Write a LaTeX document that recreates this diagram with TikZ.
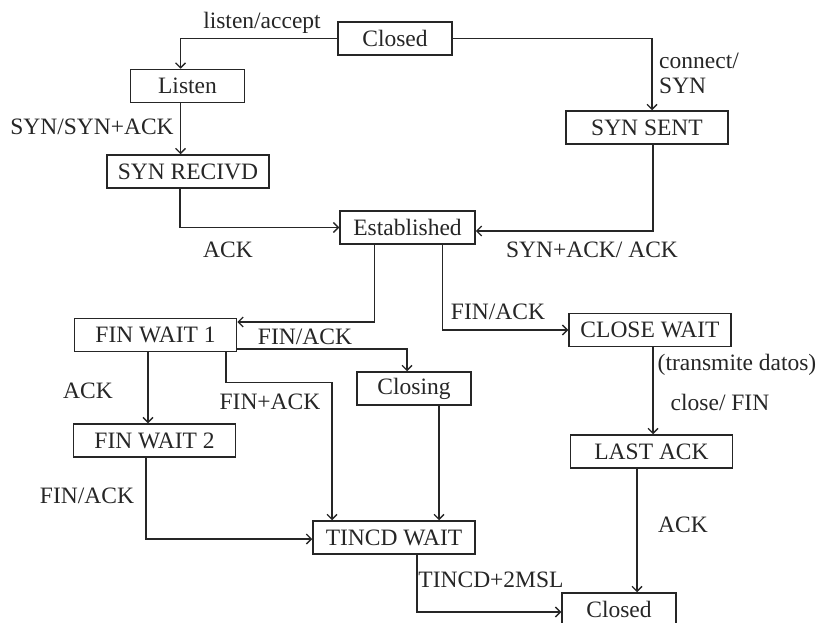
\documentclass[tikz,border=0pt]{standalone}
\usepackage{fontspec}
\setmainfont{Liberation Serif}
\usetikzlibrary{arrows.meta}

\begin{document}
\begin{tikzpicture}[x=1pt,y=-1pt,
  every node/.style={font=\fontsize{23.5}{25}\selectfont, text=black!85},
  state/.style={draw=black!85, line width=1.5pt, minimum height=33pt, minimum width=162pt, inner sep=0pt},
  shortstate/.style={state, minimum width=114pt},
  flow/.style={draw=black!85, line width=1.4pt, -{Straight Barb[length=5pt,width=10pt]}},
  lbl/.style={inner sep=0pt}]
\useasboundingbox (0,0) rectangle (817,623);
% states
\node[shortstate] (closedtop) at (395,38.5) {Closed};
\node[shortstate] (listen) at (187.5,86) {Listen};
\node[state] (synrecvd) at (188,171.5) {SYN RECIVD};
\node[state] (synsent) at (647,127.5) {SYN SENT};
\node[state, minimum width=135pt] (established) at (407.5,227.5) {Established};
\node[state] (finwaitone) at (155.5,335) {FIN WAIT 1};
\node[shortstate] (closing) at (414,388.5) {Closing};
\node[state] (finwaittwo) at (154.5,440.5) {FIN WAIT 2};
\node[state] (timewait) at (394,537.5) {TINCD WAIT};
\node[state] (closewait) at (650,330) {CLOSE WAIT};
\node[state] (lastack) at (651.5,451.5) {LAST ACK};
\node[shortstate] (closedend) at (619,609.5) {Closed};
% transitions
\draw[flow] (closedtop.west) -| ([xshift=-7pt]listen.north);
\draw[flow] (closedtop.east) -| ([xshift=5pt]synsent.north);
\draw[flow] ([xshift=-7pt]listen.south) -- ([xshift=-7pt]listen.south |- synrecvd.north);
\draw[flow] ([xshift=-8pt]synrecvd.south) |- (established.west);
\draw[flow] ([xshift=6pt]synsent.south) |- ([yshift=-3.5pt]established.east);
\draw[flow] ([xshift=-33pt]established.south) |- ([yshift=13pt]finwaitone.east);
\draw[flow] ([xshift=35pt]established.south) |- (closewait.west);
\draw[flow] ([yshift=-14pt]finwaitone.east) -| ([xshift=-7pt]closing.north);
\draw[flow] ([xshift=-7.5pt]finwaitone.south) -- ([xshift=-7.5pt]finwaitone.south |- finwaittwo.north);
\draw[flow] ([xshift=70.5pt]finwaitone.south) -- ++(0,30) -| ([xshift=-62pt]timewait.north);
\draw[flow] ([xshift=25pt]closing.south) -- ([xshift=25pt]closing.south |- timewait.north);
\draw[flow] ([xshift=-8.5pt]finwaittwo.south) |- ([yshift=-1.5pt]timewait.west);
\draw[flow] ([xshift=23pt]timewait.south) |- ([yshift=-2.5pt]closedend.west);
\draw[flow] ([xshift=3pt]closewait.south) -- ([xshift=3pt]closewait.south |- lastack.north);
\draw[flow] ([xshift=-14.5pt]lastack.south) -- ([xshift=-14.5pt]lastack.south |- closedend.north);
% labels
\node[lbl] (lblisten) at (262,23) {listen/accept};
\node[lbl, anchor=north west, align=left] (lbconnect) at (659,53) {connect/\\SYN};
\node[lbl] (lbsyn) at (92,127) {SYN/SYN+ACK};
\node[lbl] (lbackone) at (228,250) {ACK};
\node[lbl] (lbsynack) at (592,250) {SYN+ACK/ ACK};
\node[lbl] (lbfinclose) at (498,312) {FIN/ACK};
\node[lbl] (lbfinone) at (305,337) {FIN/ACK};
\node[lbl] (lbacktwo) at (88,391) {ACK};
\node[lbl] (lbfinack) at (270,402) {FIN+ACK};
\node[lbl] (lbfintwo) at (87,496) {FIN/ACK};
\node[lbl] (lbtimeout) at (491,580) {TINCD+2MSL};
\node[lbl] (lbdatos) at (737,365) {(transmite datos)};
\node[lbl] (lbclose) at (720,402) {close/ FIN};
\node[lbl] (lbackthree) at (683,525) {ACK};
\end{tikzpicture}
\end{document}
